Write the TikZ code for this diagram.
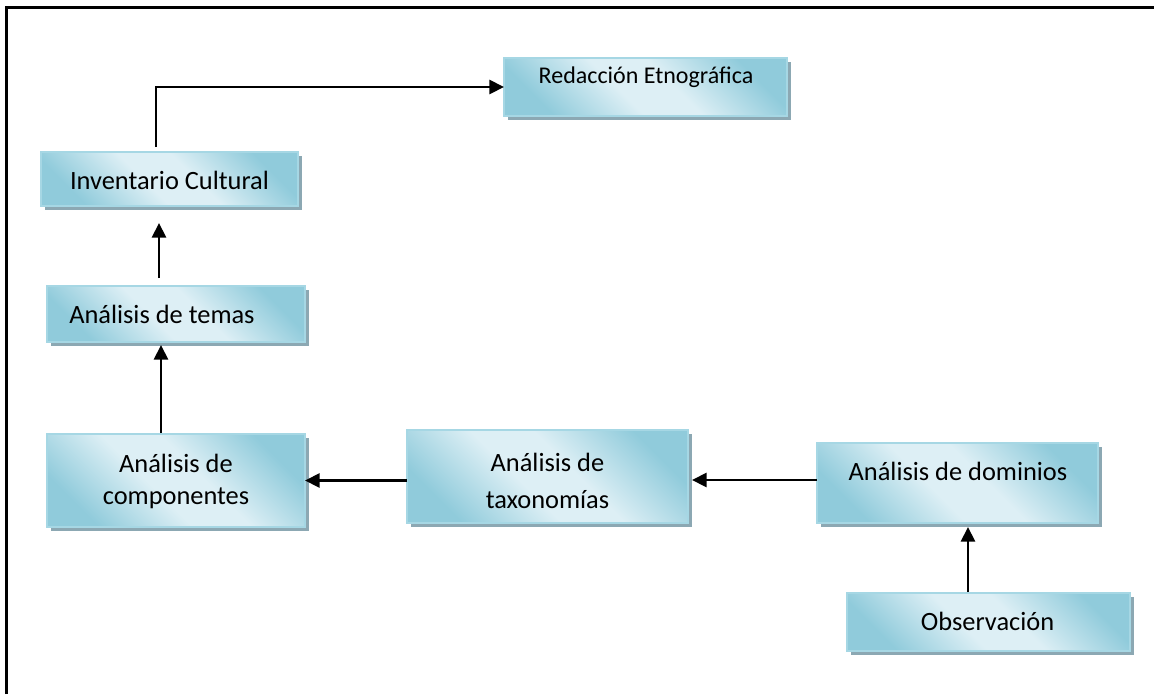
\documentclass[tikz,border=0pt]{standalone}
\usepackage{fontspec}
\setmainfont{Carlito}
\usetikzlibrary{arrows.meta,shadows,calc}
\definecolor{bdark}{HTML}{90CBDB}
\definecolor{blight}{HTML}{DDEFF5}
\definecolor{bedge}{HTML}{A6D7E4}
\definecolor{bshadow}{HTML}{8CA8B3}
\pgfdeclarehorizontalshading{cellsh}{100bp}{color(0bp)=(bdark); color(25bp)=(bdark); color(44bp)=(blight); color(56bp)=(blight); color(75bp)=(bdark); color(100bp)=(bdark)}
\tikzset{
  cell/.style={draw=bedge, line width=1.2pt, shading=cellsh, shading angle=45,
    inner sep=0pt, outer sep=0pt, anchor=north west,
    drop shadow={shadow xshift=3pt, shadow yshift=-3.2pt, fill=bshadow, opacity=1}},
  lbl/.style={inner sep=0pt, font=\fontsize{19.8}{24}\selectfont},
  arr/.style={line width=2.2pt, -{Triangle[length=11pt,width=10.5pt]}},
  frameline/.style={line width=2.25pt}
}
\begin{document}
\begin{tikzpicture}[x=0.75pt,y=-0.75pt]
\useasboundingbox (0,0) rectangle (1154,694);
\draw[frameline] (6,694) -- (6,7) -- (1154,7);
% boxes
\node[cell, minimum width=283*0.75pt, minimum height=58*0.75pt] (R) at (504,58) {};
\node[cell, minimum width=257*0.75pt, minimum height=54*0.75pt] (I) at (41,152) {};
\node[cell, minimum width=258*0.75pt, minimum height=56*0.75pt] (T) at (47,286) {};
\node[cell, minimum width=258*0.75pt, minimum height=93*0.75pt] (C) at (47,434) {};
\node[cell, minimum width=281*0.75pt, minimum height=93*0.75pt] (X) at (407,430) {};
\node[cell, minimum width=281*0.75pt, minimum height=80*0.75pt] (D) at (817,443) {};
\node[cell, minimum width=283*0.75pt, minimum height=58*0.75pt] (O) at (847,593) {};
% texts
\node[lbl, font=\fontsize{18}{22}\selectfont, anchor=base] (tR) at (646,83) {Redacción Etnográfica};
\node[lbl, anchor=base] (tI) at (169.5,189) {Inventario Cultural};
\node[lbl, anchor=base west] (tT) at (69,323) {Análisis de temas};
\node[lbl, align=center, font=\fontsize{19.8}{24}\selectfont] (tC) at (176,481) {Análisis de\\componentes};
\node[lbl, align=center, font=\fontsize{19.8}{27.5}\selectfont] (tX) at (547.5,481) {Análisis de\\taxonomías};
\node[lbl, anchor=base] (tD) at (958,480) {Análisis de dominios};
\node[lbl, anchor=base] (tO) at (987.5,630) {Observación};
% connectors
\draw[arr] ($(I.north west)+(115,-5)$) |- (R.west);
\draw[arr] ($(T.north west)+(112,-8)$) -- ($(I.south west)+(118,17)$);
\draw[arr] ($(C.north west)+(114,-1)$) -- ($(T.south west)+(114,3)$);
\draw[arr] (X.west |- C.east) -- (C.east);
\draw[arr] ($(D.west)+(0,-3)$) -- ($(X.east)+(4,3.5)$);
\draw[arr] ($(O.north)+(-20.5,-1)$) -- ($(D.south)+(10.5,4)$);
\end{tikzpicture}
\end{document}
